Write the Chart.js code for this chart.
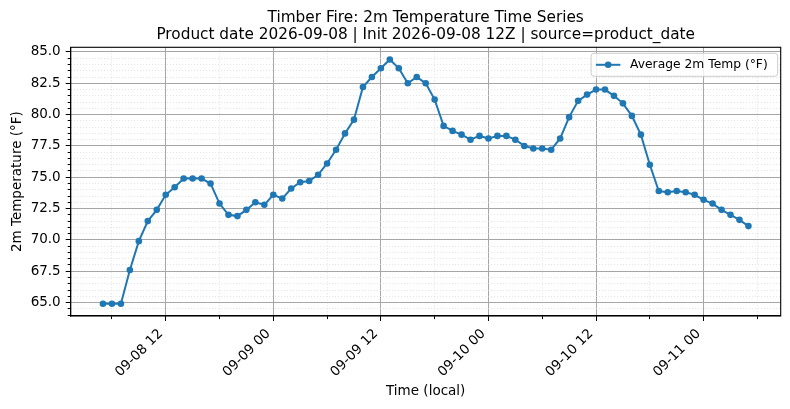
<!DOCTYPE html>
<html lang="en">
<head>
<meta charset="UTF-8" />
<title>Timber Fire - 2m Temperature</title>
<script src="https://cdn.jsdelivr.net/npm/chart.js"></script>
<style>
  html, body { margin: 0; padding: 0; background: #fff; }
  #wrap { width: 790px; height: 409px; }
</style>
</head>
<body>
<div id="wrap"><canvas id="tempChart" width="790" height="409"></canvas></div>
<script>
// hourly samples, local time (MM-DD HH)
const times = [
  '09-08 05','09-08 06','09-08 07','09-08 08','09-08 09','09-08 10','09-08 11','09-08 12',
  '09-08 13','09-08 14','09-08 15','09-08 16','09-08 17','09-08 18','09-08 19','09-08 20',
  '09-08 21','09-08 22','09-08 23',
  '09-09 00','09-09 01','09-09 02','09-09 03','09-09 04','09-09 05','09-09 06','09-09 07',
  '09-09 08','09-09 09','09-09 10','09-09 11','09-09 12','09-09 13','09-09 14','09-09 15',
  '09-09 16','09-09 17','09-09 18','09-09 19','09-09 20','09-09 21','09-09 22','09-09 23',
  '09-10 00','09-10 01','09-10 02','09-10 03','09-10 04','09-10 05','09-10 06','09-10 07',
  '09-10 08','09-10 09','09-10 10','09-10 11','09-10 12','09-10 13','09-10 14','09-10 15',
  '09-10 16','09-10 17','09-10 18','09-10 19','09-10 20','09-10 21','09-10 22','09-10 23',
  '09-11 00','09-11 01','09-11 02','09-11 03','09-11 04','09-11 05'
];
const avgTempF = [
  64.9, 64.9, 64.9, 67.6, 69.9, 71.5, 72.4, 73.6,
  74.2, 74.9, 74.9, 74.9, 74.5, 72.9, 72.0, 71.9,
  72.4, 73.0, 72.8,
  73.6, 73.3, 74.1, 74.6, 74.7, 75.2, 76.1, 77.2,
  78.5, 79.6, 82.2, 83.0, 83.7, 84.4, 83.7, 82.5,
  83.0, 82.5, 81.2, 79.1, 78.7, 78.4, 78.0, 78.3,
  78.1, 78.3, 78.3, 78.0, 77.5, 77.3, 77.3, 77.2,
  78.1, 79.8, 81.1, 81.6, 82.0, 82.0, 81.5, 80.9,
  79.9, 78.4, 76.0, 73.9, 73.8, 73.9, 73.8, 73.6,
  73.2, 72.9, 72.4, 72.0, 71.6, 71.1
];
const xMajorTicks = ['09-08 12', '09-09 00', '09-09 12', '09-10 00', '09-10 12', '09-11 00'];
const xMinorTicks = ['09-08 06', '09-08 18', '09-09 06', '09-09 18', '09-10 06', '09-10 18', '09-11 06'];
const yMajorTicks = [65.0, 67.5, 70.0, 72.5, 75.0, 77.5, 80.0, 82.5, 85.0];
const yMinorStep = 0.5;

const titleLines = [
  'Timber Fire: 2m Temperature Time Series',
  'Product date 2026-09-08 | Init 2026-09-08 12Z | source=product_date'
];
const seriesLabel = 'Average 2m Temp (°F)';

// hours since 09-08 00:00
function toHours(s) {
  const [md, hh] = s.split(' ');
  const day = parseInt(md.split('-')[1], 10);
  return (day - 8) * 24 + parseInt(hh, 10);
}

const points = times.map((t, i) => ({ x: toHours(t), y: avgTempF[i] }));
const xMajorVals = xMajorTicks.map(toHours);
const xTickVals = xMajorVals.concat(xMinorTicks.map(toHours)).sort((a, b) => a - b);

// matplotlib-style 5% margins
const xs = points.map(p => p.x), ys = points.map(p => p.y);
const xPad = (Math.max(...xs) - Math.min(...xs)) * 0.05;
const yPad = (Math.max(...ys) - Math.min(...ys)) * 0.05;
const xMin = Math.min(...xs) - xPad, xMax = Math.max(...xs) + xPad;
const yMin = Math.min(...ys) - yPad, yMax = Math.max(...ys) + yPad;

const isMajorY = v => yMajorTicks.some(m => Math.abs(m - v) < 1e-6);
const isMajorX = v => xMajorVals.includes(v);

const majorGrid = '#a6a6a6';
const minorGrid = '#d6d6d6';
const blue = '#1f77b4';

Chart.defaults.font.family = "'DejaVu Sans', sans-serif";
Chart.defaults.color = '#000';

// axes frame on top of the line (matplotlib spines)
const frame = {
  id: 'frame',
  afterDatasetsDraw(chart) {
    const { ctx, chartArea: a } = chart;
    ctx.save();
    ctx.strokeStyle = '#000';
    ctx.lineWidth = 1.1;
    ctx.strokeRect(a.left, a.top, a.right - a.left, a.bottom - a.top);
    ctx.restore();
  }
};

// legend box inside the upper right corner
const legendBox = {
  id: 'legendBox',
  afterDraw(chart) {
    const { ctx, chartArea } = chart;
    const ds = chart.data.datasets[0];
    const fs = 12.3;
    ctx.save();
    ctx.font = fs + "px 'DejaVu Sans'";
    const tw = ctx.measureText(ds.label).width;
    const padL = 4.8, hl = 24.5, gap = 9.7, padR = 10;
    const w = padL + hl + gap + tw + padR;
    const h = 23;
    const x = chartArea.right - 3 - w;
    const y = chartArea.top + 6;
    ctx.beginPath();
    ctx.roundRect(x, y, w, h, 3);
    ctx.fillStyle = 'rgba(255,255,255,0.8)';
    ctx.fill();
    ctx.strokeStyle = '#cccccc';
    ctx.lineWidth = 1;
    ctx.stroke();
    const cy = y + h / 2;
    ctx.strokeStyle = ds.borderColor;
    ctx.lineWidth = ds.borderWidth;
    ctx.beginPath();
    ctx.moveTo(x + padL, cy);
    ctx.lineTo(x + padL + hl, cy);
    ctx.stroke();
    ctx.fillStyle = ds.pointBackgroundColor;
    ctx.beginPath();
    ctx.arc(x + padL + hl / 2, cy, ds.pointRadius, 0, Math.PI * 2);
    ctx.fill();
    ctx.fillStyle = '#000';
    ctx.textBaseline = 'middle';
    ctx.fillText(ds.label, x + padL + hl + gap, cy);
    ctx.restore();
  }
};

const tempChart = new Chart(document.getElementById('tempChart'), {
  type: 'line',
  data: {
    datasets: [{
      label: seriesLabel,
      data: points,
      borderColor: blue,
      backgroundColor: blue,
      borderWidth: 2,
      pointRadius: 3.3,
      pointBorderWidth: 0,
      pointBackgroundColor: blue,
      tension: 0
    }]
  },
  options: {
    responsive: false,
    animation: false,
    layout: { padding: { top: 0, left: 0, right: 9.3, bottom: 0 } },
    plugins: {
      legend: { display: false },
      tooltip: { enabled: false },
      title: {
        display: true,
        text: titleLines,
        fullSize: false,
        color: '#000',
        font: { size: 15.3, weight: 'normal', lineHeight: 1.15 },
        padding: { top: 9, bottom: 3.1 }
      }
    },
    scales: {
      x: {
        type: 'linear',
        min: xMin,
        max: xMax,
        afterBuildTicks: scale => { scale.ticks = xTickVals.map(v => ({ value: v })); },
        afterFit: scale => { scale.height = 93; },
        ticks: {
          autoSkip: false,
          minRotation: 45,
          maxRotation: 45,
          padding: 5,
          labelOffset: -5,
          font: { size: 13.5 },
          color: '#000',
          callback: v => {
            const i = xMajorVals.indexOf(v);
            return i >= 0 ? xMajorTicks[i] : '';
          }
        },
        grid: {
          color: c => (c.tick && isMajorX(c.tick.value)) ? majorGrid : minorGrid,
          lineWidth: c => (c.tick && isMajorX(c.tick.value)) ? 1 : 0.7,
          tickColor: '#000',
          tickLength: 5,
          tickWidth: 1,
          tickBorderDash: c => (c.tick && isMajorX(c.tick.value)) ? [] : [3, 20]
        },
        border: {
          display: true,
          color: '#000',
          width: 1.1,
          dash: c => (c.tick && !isMajorX(c.tick.value)) ? [1, 2] : []
        },
        title: {
          display: true,
          text: 'Time (local)',
          color: '#000',
          font: { size: 13.5 },
          padding: { top: 0, bottom: 9.4 }
        }
      },
      y: {
        min: yMin,
        max: yMax,
        afterBuildTicks: scale => {
          const t = [];
          for (let v = Math.ceil(yMin / yMinorStep) * yMinorStep; v <= yMax + 1e-9; v += yMinorStep) {
            t.push({ value: Math.round(v * 10) / 10 });
          }
          scale.ticks = t;
        },
        afterFit: scale => { scale.width = 70.7; },
        ticks: {
          autoSkip: false,
          padding: 5,
          font: { size: 13.5 },
          color: '#000',
          callback: v => isMajorY(v) ? v.toFixed(1) : ''
        },
        grid: {
          color: c => (c.tick && isMajorY(c.tick.value)) ? majorGrid : minorGrid,
          lineWidth: c => (c.tick && isMajorY(c.tick.value)) ? 1 : 0.7,
          tickColor: '#000',
          tickLength: 5,
          tickWidth: 1,
          tickBorderDash: c => (c.tick && isMajorY(c.tick.value)) ? [] : [3, 2],
          tickBorderDashOffset: c => (c.tick && isMajorY(c.tick.value)) ? 0 : 3
        },
        border: {
          display: true,
          color: '#000',
          width: 1.1,
          dash: c => (c.tick && !isMajorY(c.tick.value)) ? [1, 2] : []
        },
        title: {
          display: true,
          text: '2m Temperature (°F)',
          color: '#000',
          font: { size: 13.5 },
          padding: { top: 9.4, bottom: 0 }
        }
      }
    }
  },
  plugins: [frame, legendBox]
});
</script>
</body>
</html>
